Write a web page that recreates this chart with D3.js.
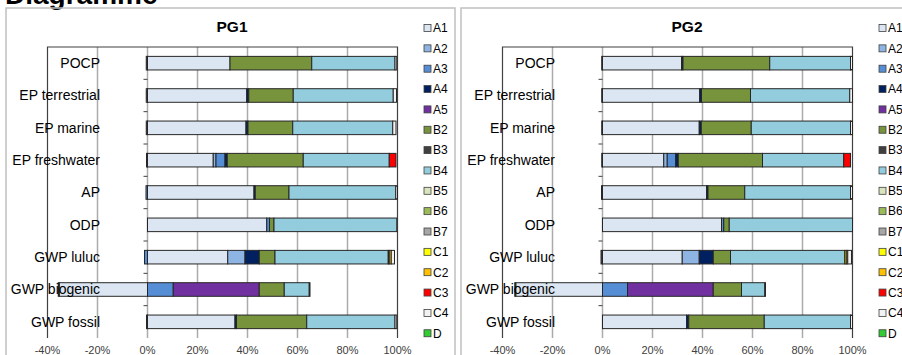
<!DOCTYPE html>
<html>
<head>
<meta charset="utf-8">
<script src="https://cdn.jsdelivr.net/npm/d3@7"></script>
<style>
  body { margin: 0; background: #fff; }
  svg { display: block; font-family: Arial, "Liberation Sans", sans-serif; }
</style>
</head>
<body>
<svg id="chart" width="902" height="355"></svg>
<script>
const CANVAS_WIDTH = 902;
const CANVAS_HEIGHT = 355;
const PANEL_SHIFT = 455;

const categories = ["POCP", "EP terrestrial", "EP marine", "EP freshwater", "AP", "ODP", "GWP luluc", "GWP biogenic", "GWP fossil"];
const seriesNames = ["A1", "A2", "A3", "A4", "A5", "B2", "B3", "B4", "B5", "B6", "B7", "C1", "C2", "C3", "C4", "D"];
const seriesColors = ["#dce6f2", "#8db4e2", "#558ed5", "#002060", "#7030a0", "#77933c", "#404040", "#93cddd",
  "#d7e4bd", "#9bbb59", "#a6a6a6", "#ffff00", "#ffc000", "#ff0000", "#f2f2f2", "#33cc33"];
const xTicks = [-40, -20, 0, 20, 40, 60, 80, 100];

// shares in %, one value per category (top to bottom)
const pg1 = {
  A1: [33, 39.7, 39.4, 26.3, 42.6, 47.7, 32.1, -35.3, 35],
  A2: [0, 0, 0, 1.1, 0, 0, 6.9, 0, 0],
  A3: [0, 0, 0, 3.6, -0.6, 1.1, -1.2, 10.3, 0],
  A4: [0, 0.8, 0.8, 0.9, 0.5, 0, 5.7, 0, 0.6],
  A5: [0, 0, 0, 0, 0, 0, 0, 34.4, 0],
  B2: [32.7, 17.8, 17.9, 30.4, 13.5, 1.8, 6.3, 10, 28.1],
  B3: [-0.5, -0.5, -0.5, 0, 0, 0, 0, 0, -0.4],
  B4: [33.3, 40, 40, 34.4, 42.7, 49.1, 45.3, 10, 35.3],
  B5: [0, 0, 0, 0, 0, 0, 0, 0, 0],
  B6: [0, 0, 0, 0, 0, 0, 0, 0, 0],
  B7: [0, 0, 0, 0, 0, 0, 0, 0, 0],
  C1: [0, 0, 0, 0, 0, 0, 0.4, 0, 0],
  C2: [0, 0, 0, 0, 0, 0, 0.8, 0, 0],
  C3: [0, 0, 0, 2.7, 0, 0, 0, 0, 0],
  C4: [0.7, 1.3, 1.3, 0, 0.7, 0, 1.3, 0.3, 0.7],
  D: [0, 0, 0, -0.4, 0, 0, 0, -0.4, 0],
};

const pg2 = {
  A1: [31.6, 38.9, 38.7, 24.5, 41.6, 47.6, 31.9, -34.7, 33.6],
  A2: [0, 0, 0, 1.4, 0, 0, 6.8, 0, 0],
  A3: [0, 0, 0, 3.4, 0, 0.9, 0, 10, 0],
  A4: [0.6, 0.7, 0.8, 1, 0.6, 0, 5.6, 0, 0.9],
  A5: [0, 0, 0, 0, 0, 0, 0, 34.3, 0],
  B2: [34.7, 19.6, 20, 33.7, 14.7, 2.2, 6.9, 11.3, 30.2],
  B3: [-0.3, -0.3, -0.3, 0, -0.4, 0, -0.6, 0, 0],
  B4: [32.3, 39.7, 39.7, 32.5, 42.3, 49.3, 45.7, 9.3, 34.5],
  B5: [0, 0, 0, 0, 0, 0, 0, 0, 0],
  B6: [0, 0, 0, 0, 0, 0, 0, 0, 0],
  B7: [0, 0, 0, 0, 0, 0, 0, 0, 0],
  C1: [0, 0, 0, 0, 0, 0, 0.6, 0, 0],
  C2: [0, 0, 0, 0, 0, 0, 0.6, 0, 0],
  C3: [0, 0, 0, 2.7, 0, 0, 0, 0, 0],
  C4: [0.8, 1.1, 0.8, 0, 0.8, 0, 1.5, 0.3, 0.8],
  D: [0, 0, 0, -0.3, 0, 0, 0, -0.4, 0],
};

const svg = d3.select("#chart");

// page heading, cut off by the top edge
svg.append("text")
  .attr("x", 5)
  .attr("y", 4)
  .text("Diagramme")
  .style("font-size", "28px")
  .style("font-weight", "bold");

const color = d3.scaleOrdinal().domain(seriesNames).range(seriesColors);

const drawPanel = (title, data, shift) => {
  const g = svg.append("g").attr("transform", `translate(${shift}, 0)`);

  // panel frame
  g.append("rect")
    .attr("x", 6).attr("y", 8)
    .attr("width", 449).attr("height", 400)
    .attr("fill", "none")
    .attr("stroke", "#c0c0c0")
    .attr("stroke-width", 1.5);

  g.append("text")
    .attr("x", 232).attr("y", 32)
    .attr("text-anchor", "middle")
    .text(title)
    .style("font-size", "15.5px")
    .style("font-weight", "bold");

  const xScale = d3.scaleLinear().domain([-40, 100]).range([47.5, 397.5]);
  const yScale = d3.scaleBand().domain(categories).range([47, 338])
    .paddingInner(0.58).paddingOuter(0.29);

  // gridlines
  g.selectAll(".grid")
    .data(xTicks.filter((t) => t > -40 && t < 100))
    .enter()
    .append("line")
    .attr("x1", (t) => xScale(t)).attr("x2", (t) => xScale(t))
    .attr("y1", 47).attr("y2", 338)
    .attr("stroke", "#ababab")
    .attr("stroke-width", 1.5);

  // plot frame: left, top, right
  g.append("path")
    .attr("d", `M${xScale(-40)},338V47H${xScale(100)}V338`)
    .attr("fill", "none")
    .attr("stroke", "#404040")
    .attr("stroke-width", 1.2);

  // category tick marks at x = 0
  const step = yScale.step();
  g.selectAll(".ytick")
    .data(d3.range(1, categories.length))
    .enter()
    .append("line")
    .attr("x1", xScale(0) - 4).attr("x2", xScale(0))
    .attr("y1", (i) => 47 + i * step).attr("y2", (i) => 47 + i * step)
    .attr("stroke", "#404040");

  const table = categories.map((c, i) => {
    const row = { category: c };
    seriesNames.forEach((s) => (row[s] = data[s][i]));
    return row;
  });
  const stacked = d3.stack().keys(seriesNames).offset(d3.stackOffsetDiverging)(table);

  g.selectAll(".series")
    .data(stacked)
    .enter()
    .append("g")
    .attr("fill", (d) => color(d.key))
    .selectAll("rect")
    .data((d) => d.filter((p) => p[1] - p[0] !== 0))
    .enter()
    .append("rect")
    .attr("x", (p) => xScale(Math.min(p[0], p[1])))
    .attr("width", (p) => Math.abs(xScale(p[1]) - xScale(p[0])))
    .attr("y", (p) => yScale(p.data.category))
    .attr("height", yScale.bandwidth())
    .attr("stroke", "#262626")
    .attr("stroke-width", 1);

  // category labels sit on top of the bars
  g.selectAll(".ylabel")
    .data(categories)
    .enter()
    .append("text")
    .attr("x", 100)
    .attr("y", (c) => yScale(c) + yScale.bandwidth() / 2)
    .attr("dy", "0.35em")
    .attr("text-anchor", "end")
    .text((c) => c)
    .style("font-size", "14px");

  g.selectAll(".xlabel")
    .data(xTicks)
    .enter()
    .append("text")
    .attr("x", (t) => xScale(t))
    .attr("y", 354)
    .attr("text-anchor", "middle")
    .text((t) => `${t}%`)
    .style("font-size", "11px")
    .style("fill", "#404040");

  // legend
  const legend = g.selectAll(".legend")
    .data(seriesNames)
    .enter()
    .append("g")
    .attr("transform", (s, i) => `translate(424, ${28 + i * 20.35})`);

  legend.append("rect")
    .attr("x", 0).attr("y", -3.5)
    .attr("width", 7).attr("height", 7)
    .attr("fill", (s) => color(s))
    .attr("stroke", "#404040")
    .attr("stroke-width", 0.8);

  legend.append("text")
    .attr("x", 9)
    .attr("dy", "0.36em")
    .text((s) => s)
    .style("font-size", "12px");
};

drawPanel("PG1", pg1, 0);
drawPanel("PG2", pg2, PANEL_SHIFT);
</script>
</body>
</html>
